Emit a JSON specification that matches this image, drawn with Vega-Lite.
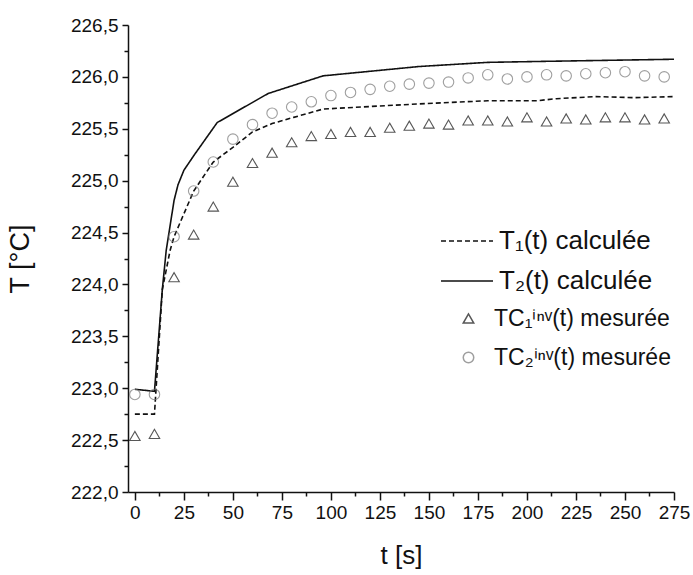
{
  "$schema": "https://vega.github.io/schema/vega-lite/v6.json",
  "width": 546,
  "height": 467,
  "autosize": {"type": "none"},
  "padding": {"left": 128, "top": 25, "right": 19, "bottom": 83},
  "background": "white",
  "config": {
    "view": {"stroke": null},
    "font": "Liberation Sans",
    "axis": {"labelFont": "Liberation Sans", "titleFont": "Liberation Sans", "labelColor": "#111", "titleColor": "#111", "domainColor": "#111", "tickColor": "#111", "domainWidth": 1.5, "tickWidth": 1.5, "grid": false, "titleFontWeight": "normal"},
    "legend": {"labelFont": "Liberation Sans", "labelColor": "#111", "labelLimit": 400}
  },
  "datasets": {
    "calc": [
      {"t": 0, "T": 222.75, "courbe": "T₁(t) calculée"},
      {"t": 10, "T": 222.75, "courbe": "T₁(t) calculée"},
      {"t": 12, "T": 223.35, "courbe": "T₁(t) calculée"},
      {"t": 14, "T": 223.95, "courbe": "T₁(t) calculée"},
      {"t": 18, "T": 224.33, "courbe": "T₁(t) calculée"},
      {"t": 20, "T": 224.46, "courbe": "T₁(t) calculée"},
      {"t": 30, "T": 224.9, "courbe": "T₁(t) calculée"},
      {"t": 40, "T": 225.18, "courbe": "T₁(t) calculée"},
      {"t": 50, "T": 225.32, "courbe": "T₁(t) calculée"},
      {"t": 60, "T": 225.47, "courbe": "T₁(t) calculée"},
      {"t": 70, "T": 225.55, "courbe": "T₁(t) calculée"},
      {"t": 81, "T": 225.61, "courbe": "T₁(t) calculée"},
      {"t": 96, "T": 225.69, "courbe": "T₁(t) calculée"},
      {"t": 145, "T": 225.74, "courbe": "T₁(t) calculée"},
      {"t": 180, "T": 225.77, "courbe": "T₁(t) calculée"},
      {"t": 205, "T": 225.77, "courbe": "T₁(t) calculée"},
      {"t": 215, "T": 225.79, "courbe": "T₁(t) calculée"},
      {"t": 235, "T": 225.81, "courbe": "T₁(t) calculée"},
      {"t": 255, "T": 225.8, "courbe": "T₁(t) calculée"},
      {"t": 275, "T": 225.81, "courbe": "T₁(t) calculée"},
      {"t": 0, "T": 222.99, "courbe": "T₂(t) calculée"},
      {"t": 10, "T": 222.97, "courbe": "T₂(t) calculée"},
      {"t": 14, "T": 223.95, "courbe": "T₂(t) calculée"},
      {"t": 16, "T": 224.33, "courbe": "T₂(t) calculée"},
      {"t": 20, "T": 224.81, "courbe": "T₂(t) calculée"},
      {"t": 22, "T": 224.96, "courbe": "T₂(t) calculée"},
      {"t": 25, "T": 225.1, "courbe": "T₂(t) calculée"},
      {"t": 30, "T": 225.24, "courbe": "T₂(t) calculée"},
      {"t": 42, "T": 225.56, "courbe": "T₂(t) calculée"},
      {"t": 68, "T": 225.84, "courbe": "T₂(t) calculée"},
      {"t": 96, "T": 226.01, "courbe": "T₂(t) calculée"},
      {"t": 145, "T": 226.1, "courbe": "T₂(t) calculée"},
      {"t": 180, "T": 226.14, "courbe": "T₂(t) calculée"},
      {"t": 210, "T": 226.15, "courbe": "T₂(t) calculée"},
      {"t": 275, "T": 226.17, "courbe": "T₂(t) calculée"}
    ],
    "mes": [
      {"t": 0, "T": 222.54, "sonde": "TC₁ⁱⁿᵛ(t) mesurée"},
      {"t": 10, "T": 222.56, "sonde": "TC₁ⁱⁿᵛ(t) mesurée"},
      {"t": 20, "T": 224.07, "sonde": "TC₁ⁱⁿᵛ(t) mesurée"},
      {"t": 30, "T": 224.48, "sonde": "TC₁ⁱⁿᵛ(t) mesurée"},
      {"t": 40, "T": 224.75, "sonde": "TC₁ⁱⁿᵛ(t) mesurée"},
      {"t": 50, "T": 224.99, "sonde": "TC₁ⁱⁿᵛ(t) mesurée"},
      {"t": 60, "T": 225.17, "sonde": "TC₁ⁱⁿᵛ(t) mesurée"},
      {"t": 70, "T": 225.27, "sonde": "TC₁ⁱⁿᵛ(t) mesurée"},
      {"t": 80, "T": 225.37, "sonde": "TC₁ⁱⁿᵛ(t) mesurée"},
      {"t": 90, "T": 225.43, "sonde": "TC₁ⁱⁿᵛ(t) mesurée"},
      {"t": 100, "T": 225.45, "sonde": "TC₁ⁱⁿᵛ(t) mesurée"},
      {"t": 110, "T": 225.47, "sonde": "TC₁ⁱⁿᵛ(t) mesurée"},
      {"t": 120, "T": 225.47, "sonde": "TC₁ⁱⁿᵛ(t) mesurée"},
      {"t": 130, "T": 225.51, "sonde": "TC₁ⁱⁿᵛ(t) mesurée"},
      {"t": 140, "T": 225.53, "sonde": "TC₁ⁱⁿᵛ(t) mesurée"},
      {"t": 150, "T": 225.55, "sonde": "TC₁ⁱⁿᵛ(t) mesurée"},
      {"t": 160, "T": 225.54, "sonde": "TC₁ⁱⁿᵛ(t) mesurée"},
      {"t": 170, "T": 225.58, "sonde": "TC₁ⁱⁿᵛ(t) mesurée"},
      {"t": 180, "T": 225.58, "sonde": "TC₁ⁱⁿᵛ(t) mesurée"},
      {"t": 190, "T": 225.57, "sonde": "TC₁ⁱⁿᵛ(t) mesurée"},
      {"t": 200, "T": 225.61, "sonde": "TC₁ⁱⁿᵛ(t) mesurée"},
      {"t": 210, "T": 225.57, "sonde": "TC₁ⁱⁿᵛ(t) mesurée"},
      {"t": 220, "T": 225.6, "sonde": "TC₁ⁱⁿᵛ(t) mesurée"},
      {"t": 230, "T": 225.59, "sonde": "TC₁ⁱⁿᵛ(t) mesurée"},
      {"t": 240, "T": 225.61, "sonde": "TC₁ⁱⁿᵛ(t) mesurée"},
      {"t": 250, "T": 225.61, "sonde": "TC₁ⁱⁿᵛ(t) mesurée"},
      {"t": 260, "T": 225.59, "sonde": "TC₁ⁱⁿᵛ(t) mesurée"},
      {"t": 270, "T": 225.6, "sonde": "TC₁ⁱⁿᵛ(t) mesurée"},
      {"t": 0, "T": 222.94, "sonde": "TC₂ⁱⁿᵛ(t) mesurée"},
      {"t": 10, "T": 222.94, "sonde": "TC₂ⁱⁿᵛ(t) mesurée"},
      {"t": 20, "T": 224.46, "sonde": "TC₂ⁱⁿᵛ(t) mesurée"},
      {"t": 30, "T": 224.9, "sonde": "TC₂ⁱⁿᵛ(t) mesurée"},
      {"t": 40, "T": 225.18, "sonde": "TC₂ⁱⁿᵛ(t) mesurée"},
      {"t": 50, "T": 225.4, "sonde": "TC₂ⁱⁿᵛ(t) mesurée"},
      {"t": 60, "T": 225.54, "sonde": "TC₂ⁱⁿᵛ(t) mesurée"},
      {"t": 70, "T": 225.65, "sonde": "TC₂ⁱⁿᵛ(t) mesurée"},
      {"t": 80, "T": 225.71, "sonde": "TC₂ⁱⁿᵛ(t) mesurée"},
      {"t": 90, "T": 225.76, "sonde": "TC₂ⁱⁿᵛ(t) mesurée"},
      {"t": 100, "T": 225.82, "sonde": "TC₂ⁱⁿᵛ(t) mesurée"},
      {"t": 110, "T": 225.85, "sonde": "TC₂ⁱⁿᵛ(t) mesurée"},
      {"t": 120, "T": 225.88, "sonde": "TC₂ⁱⁿᵛ(t) mesurée"},
      {"t": 130, "T": 225.91, "sonde": "TC₂ⁱⁿᵛ(t) mesurée"},
      {"t": 140, "T": 225.93, "sonde": "TC₂ⁱⁿᵛ(t) mesurée"},
      {"t": 150, "T": 225.94, "sonde": "TC₂ⁱⁿᵛ(t) mesurée"},
      {"t": 160, "T": 225.95, "sonde": "TC₂ⁱⁿᵛ(t) mesurée"},
      {"t": 170, "T": 225.99, "sonde": "TC₂ⁱⁿᵛ(t) mesurée"},
      {"t": 180, "T": 226.02, "sonde": "TC₂ⁱⁿᵛ(t) mesurée"},
      {"t": 190, "T": 225.98, "sonde": "TC₂ⁱⁿᵛ(t) mesurée"},
      {"t": 200, "T": 226.0, "sonde": "TC₂ⁱⁿᵛ(t) mesurée"},
      {"t": 210, "T": 226.02, "sonde": "TC₂ⁱⁿᵛ(t) mesurée"},
      {"t": 220, "T": 226.01, "sonde": "TC₂ⁱⁿᵛ(t) mesurée"},
      {"t": 230, "T": 226.03, "sonde": "TC₂ⁱⁿᵛ(t) mesurée"},
      {"t": 240, "T": 226.04, "sonde": "TC₂ⁱⁿᵛ(t) mesurée"},
      {"t": 250, "T": 226.05, "sonde": "TC₂ⁱⁿᵛ(t) mesurée"},
      {"t": 260, "T": 226.01, "sonde": "TC₂ⁱⁿᵛ(t) mesurée"},
      {"t": 270, "T": 226.0, "sonde": "TC₂ⁱⁿᵛ(t) mesurée"}
    ]
  },
  "resolve": {"axis": {"x": "independent", "y": "independent"}},
  "layer": [
    {
      "data": {"name": "calc"},
      "mark": {"type": "line", "color": "#111", "strokeWidth": 1.6, "clip": true},
      "encoding": {
        "x": {"field": "t", "type": "quantitative", "scale": {"domain": [-3.5, 275], "nice": false, "zero": false},
          "axis": {"orient": "bottom", "values": [0, 25, 50, 75, 100, 125, 150, 175, 200, 225, 250, 275], "title": "t [s]", "titleFontSize": 26, "titlePadding": 20, "labelFontSize": 19, "labelPadding": 3, "tickSize": 8, "labelFlush": false, "labelOverlap": false}},
        "y": {"field": "T", "type": "quantitative", "scale": {"domain": [222, 226.5], "nice": false, "zero": false},
          "axis": {"orient": "left", "values": [222, 222.5, 223, 223.5, 224, 224.5, 225, 225.5, 226, 226.5], "labelExpr": "replace(format(datum.value, '.1f'), '.', ',')", "title": "T [°C]", "titleFontSize": 27, "titlePadding": 36, "labelFontSize": 19, "labelPadding": 4, "tickSize": 6, "labelFlush": false, "labelOverlap": false}},
        "strokeDash": {"field": "courbe", "type": "nominal",
          "scale": {"domain": ["T₁(t) calculée", "T₂(t) calculée"], "range": [[5, 3], [1, 0]]},
          "legend": {"title": null, "orient": "none", "legendX": 312, "legendY": 189, "symbolType": "stroke", "symbolSize": 2704, "symbolStrokeWidth": 1.5, "symbolStrokeColor": "#111", "labelFontSize": 26, "rowPadding": -32, "labelOffset": 5}}
      }
    },
    {
      "data": {"name": "mes"},
      "mark": {"type": "point", "filled": false, "strokeWidth": 1.1, "size": 110},
      "encoding": {
        "x": {"field": "t", "type": "quantitative",
          "axis": {"orient": "bottom", "values": [12.5, 37.5, 62.5, 87.5, 112.5, 137.5, 162.5, 187.5, 212.5, 237.5, 262.5], "labels": false, "domain": false, "title": null, "tickSize": 4}},
        "y": {"field": "T", "type": "quantitative",
          "axis": {"orient": "left", "values": [222.25, 222.75, 223.25, 223.75, 224.25, 224.75, 225.25, 225.75, 226.25], "labels": false, "domain": false, "title": null, "tickSize": 4}},
        "shape": {"field": "sonde", "type": "nominal",
          "scale": {"domain": ["TC₁ⁱⁿᵛ(t) mesurée", "TC₂ⁱⁿᵛ(t) mesurée"], "range": ["triangle-up", "circle"]},
          "legend": {"title": null, "orient": "none", "legendX": 329, "legendY": 282, "symbolSize": 110, "labelFontSize": 23, "rowPadding": 15, "labelOffset": 14}},
        "color": {"field": "sonde", "type": "nominal",
          "scale": {"domain": ["TC₁ⁱⁿᵛ(t) mesurée", "TC₂ⁱⁿᵛ(t) mesurée"], "range": ["#111", "#777"]}}
      }
    }
  ]
}
